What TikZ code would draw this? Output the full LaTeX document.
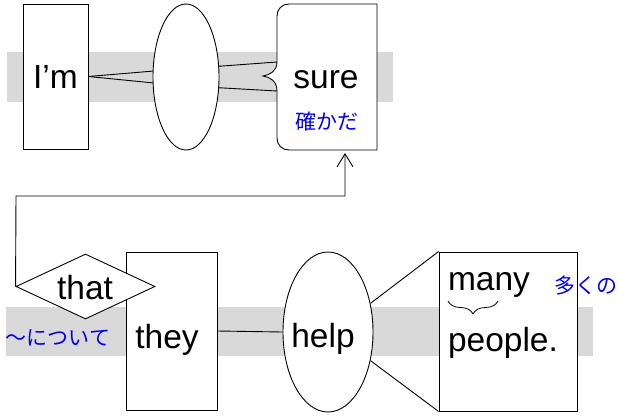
\documentclass[tikz,border=0pt]{standalone}
\usepackage{fontspec}
\setmainfont{Liberation Sans}
\newfontfamily\jpfont{Noto Sans CJK JP}
\usetikzlibrary{arrows.meta,shapes.geometric,decorations.pathreplacing}

\begin{document}
\begin{tikzpicture}[x=1pt,y=-1pt,line width=0.9pt,
    word/.style={font=\fontsize{33.5}{40}\selectfont},
    gloss/.style={font=\jpfont\fontsize{21}{25}\selectfont,text=blue},
    wordbox/.style={draw,fill=white,inner sep=0pt},
    band/.style={fill=black!15},
    arr/.style={-{Straight Barb[length=13pt,width=16pt]},shorten >=3pt}]
  \useasboundingbox (0,0) rectangle (619,417);
  % grey bands
  \fill[band] (7,52) rectangle (393,102);
  \fill[band] (6,307) rectangle (593,356);
  % top row
  \node[wordbox,word,minimum width=65pt,minimum height=145pt] (im) at (55.5,76.5) {I’m};
  \node[wordbox,ellipse,minimum width=66pt,minimum height=146pt] (be) at (186,77) {};
  \draw[fill=white] (277,16) .. controls (277,9) and (282,4) .. (289,4) -- (377,4)
    -- (377,150) -- (289,150) .. controls (282,150) and (277,145) .. (277,138)
    -- (277,91) .. controls (277,81) and (270,77) .. (263,76)
    .. controls (270,75) and (277,71) .. (277,62) -- cycle;
  \node[word] (sure) at (326,80) {sure};
  \node[gloss] (sureJ) at (327,122) {確かだ};
  \coordinate (sureup) at (277,62);
  \coordinate (suredn) at (277,91);
  \coordinate (surebot) at (345,150);
  \draw (im.east) -- (be.170);
  \draw (im.east) -- (be.190);
  \draw (be.18) -- (sureup);
  \draw (be.-18) -- (suredn);
  % bottom row
  \node[wordbox,minimum width=91pt,minimum height=158pt] (theybox) at (171.5,331) {};
  \node[word] (they) at (167,340) {they};
  \node[wordbox,diamond,aspect=2,minimum width=139pt,minimum height=65pt] (that) at (85.5,286.5) {};
  \node[word] (thatw) at (85,288) {that};
  \node[gloss] (thatJ) at (58,338) {～について};
  \node[wordbox,ellipse,minimum width=90pt,minimum height=160pt] (helpbox) at (328,332) {};
  \node[word] (help) at (323,339) {help};
  \node[wordbox,minimum width=138pt,minimum height=159pt] (peoplebox) at (508,331.5) {};
  \node[word] (many) at (489,285) {many};
  \node[word] (people) at (503,343) {people.};
  \node[gloss] (manyJ) at (586,286) {多くの};
  \draw[line width=0.8pt,decorate,decoration={brace,amplitude=13pt}] (498,301) -- (448,301);
  \draw (theybox.east) -- (helpbox.west);
  \draw (helpbox.34) -- (peoplebox.north west);
  \draw (helpbox.-34) -- (peoplebox.south west);
  % clause arrow
  \coordinate (turn) at (16,196);
  \draw[arr] (that.west) -- (turn) -| (surebot);
\end{tikzpicture}
\end{document}
